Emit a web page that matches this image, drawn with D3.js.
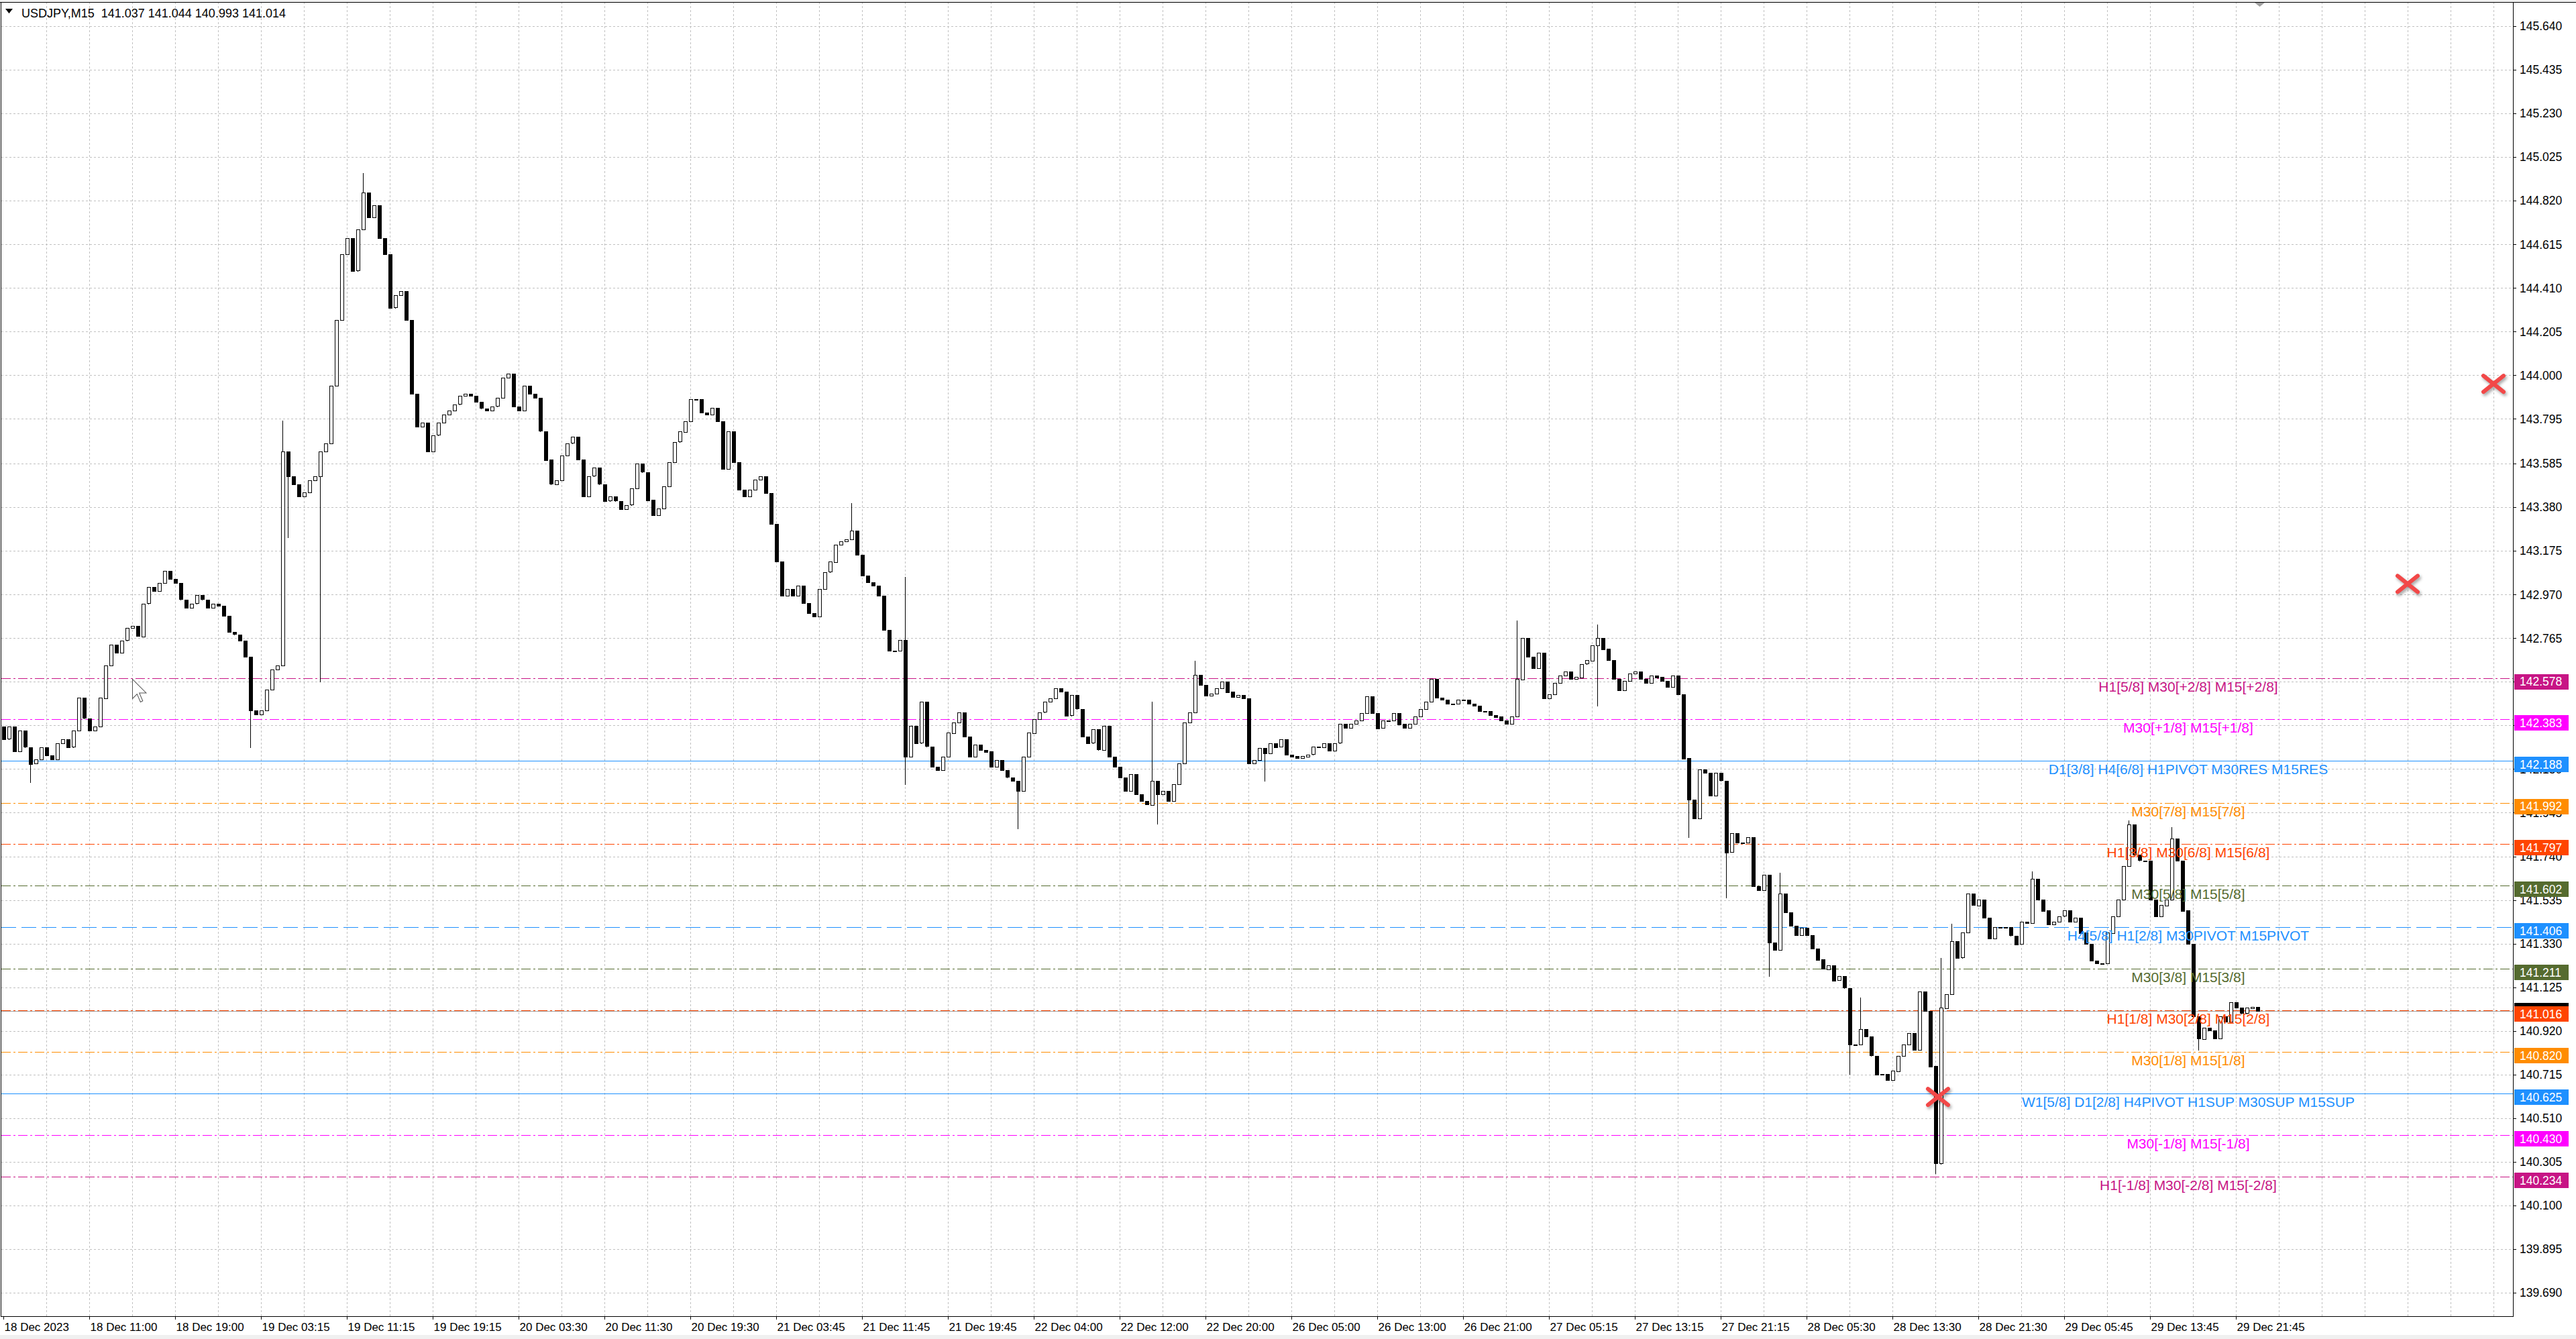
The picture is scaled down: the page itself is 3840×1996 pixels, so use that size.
<!DOCTYPE html>
<html>
<head>
<meta charset="utf-8">
<script src="https://cdnjs.cloudflare.com/ajax/libs/d3/7.8.5/d3.min.js"></script>
<style>
  html, body { margin: 0; padding: 0; background: #f0f0f0; overflow: hidden; }
  svg { display: block; }
</style>
</head>
<body>
<div id="chart"></div>
<script>
// USDJPY M15 with Murrey math levels, drawn with D3

var symbolTitle = "USDJPY,M15";
var lastOHLC = ["141.037", "141.044", "140.993", "141.014"];
var bidPrice = 141.014;

// closes read every 2nd M15 bar (bar index = i * 2)
var firstOpen = 142.350;
var closes = [
  142.291, 142.349, 142.233, 142.330, 142.253, 142.175, 142.195, 142.253, 142.214, 142.195,
  142.272, 142.291, 142.253, 142.330, 142.484, 142.388, 142.330, 142.349, 142.484, 142.638,
  142.735, 142.696, 142.754, 142.812, 142.822, 142.774, 142.928, 143.005, 142.986, 143.024,
  143.082, 143.044, 143.024, 142.947, 142.909, 142.928, 142.967, 142.947, 142.909, 142.928,
  142.918, 142.870, 142.793, 142.783, 142.754, 142.677, 142.426, 142.407, 142.426, 142.523,
  142.619, 142.638, 143.642, 143.526, 143.488, 143.430, 143.449, 143.507, 143.526, 143.642,
  143.681, 143.951, 144.259, 144.568, 144.645, 144.491, 144.684, 144.858, 144.742, 144.800,
  144.645, 144.568, 144.317, 144.375, 144.395, 144.259, 143.912, 143.758, 143.777, 143.642,
  143.719, 143.777, 143.816, 143.835, 143.864, 143.902, 143.912, 143.902, 143.874, 143.845,
  143.835, 143.854, 143.893, 143.989, 144.009, 143.854, 143.835, 143.951, 143.912, 143.893,
  143.738, 143.603, 143.488, 143.507, 143.623, 143.681, 143.710, 143.603, 143.430, 143.526,
  143.565, 143.488, 143.410, 143.430, 143.410, 143.372, 143.391, 143.468, 143.584, 143.545,
  143.414, 143.341, 143.374, 143.478, 143.591, 143.687, 143.735, 143.784, 143.888, 143.888,
  143.824, 143.816, 143.848, 143.784, 143.559, 143.735, 143.591, 143.462, 143.430, 143.462,
  143.510, 143.526, 143.446, 143.301, 143.124, 142.964, 142.996, 142.964, 143.012, 142.931,
  142.883, 142.867, 142.996, 143.076, 143.124, 143.205, 143.221, 143.229, 143.269, 143.157,
  143.060, 143.028, 143.012, 142.964, 142.803, 142.706, 142.706, 142.755, 142.208, 142.353,
  142.272, 142.465, 142.256, 142.160, 142.144, 142.208, 142.320, 142.369, 142.417, 142.304,
  142.208, 142.264, 142.240, 142.232, 142.160, 142.192, 142.144, 142.111, 142.095, 142.047,
  142.208, 142.320, 142.385, 142.417, 142.465, 142.481, 142.529, 142.513, 142.401, 142.497,
  142.433, 142.304, 142.272, 142.336, 142.240, 142.353, 142.208, 142.160, 142.111, 142.047,
  142.127, 142.031, 141.999, 141.983, 142.095, 142.031, 142.047, 141.999, 142.079, 142.176,
  142.369, 142.417, 142.594, 142.546, 142.497, 142.505, 142.529, 142.562, 142.513, 142.489,
  142.497, 142.481, 142.176, 142.192, 142.248, 142.224, 142.272,
  142.254, 142.290, 142.219, 142.210, 142.201, 142.210, 142.219, 142.254, 142.254, 142.272,
  142.237, 142.272, 142.361, 142.343, 142.361, 142.378, 142.414, 142.493, 142.414, 142.343,
  142.378, 142.378, 142.414, 142.361, 142.343, 142.361, 142.396, 142.431, 142.467, 142.573,
  142.484, 142.476, 142.458, 142.458, 142.476, 142.476, 142.458, 142.449, 142.423, 142.423,
  142.405, 142.396, 142.378, 142.361, 142.396, 142.573, 142.767, 142.679, 142.626, 142.697,
  142.484, 142.502, 142.555, 142.590, 142.608, 142.573, 142.582, 142.644, 142.661, 142.732,
  142.767, 142.714, 142.661, 142.573, 142.520, 142.564, 142.599, 142.608, 142.573, 142.555,
  142.590, 142.582, 142.564, 142.537, 142.590, 142.502, 142.201, 142.007, 141.918, 142.148,
  142.131, 142.025, 142.131, 142.095, 141.759, 141.848, 141.804, 141.804, 141.830, 141.600,
  141.582, 141.653, 141.335, 141.299, 141.565, 141.476, 141.414, 141.370, 141.405, 141.370,
  141.308, 141.255, 141.211, 141.229, 141.158, 141.176, 141.122, 140.857, 140.857, 140.928,
  140.893, 140.804, 140.716, 140.716, 140.689, 140.733, 140.804, 140.857,
  140.910, 140.832, 141.106, 141.015, 140.754, 140.296, 141.028, 141.093, 141.341, 141.263,
  141.381, 141.564, 141.511, 141.538, 141.453, 141.355, 141.407, 141.407, 141.407, 141.368,
  141.328, 141.433, 141.427, 141.636, 141.538, 141.485, 141.420, 141.433, 141.459, 141.485,
  141.433, 141.453, 141.381, 141.328, 141.250, 141.237, 141.237, 141.381, 141.459, 141.538,
  141.694, 141.890, 141.747, 141.721, 141.721, 141.538, 141.459, 141.511, 141.538, 141.825,
  141.721, 141.485, 141.328, 140.989, 140.884, 140.936, 140.923, 140.884, 140.989, 140.963,
  141.054, 141.028, 141.002, 141.028, 141.034, 141.014
];

// long wicks that stick out of the bodies
var highIdx = [52, 67, 158, 168, 214, 222, 282, 297, 331, 346, 361, 363, 378, 396, 404];
var highVal = [143.787, 144.950, 143.398, 143.052, 142.468, 142.658, 142.847, 142.829, 141.662, 141.078, 141.263, 141.422, 141.668, 141.910, 141.877];
var lowIdx = [5, 46, 53, 59, 168, 189, 215, 235, 297, 314, 321, 329, 344, 360, 409];
var lowVal = [142.088, 142.252, 143.237, 142.561, 142.079, 141.870, 141.894, 142.095, 142.449, 141.830, 141.547, 141.176, 140.716, 140.250, 140.832];

// Murrey math levels
var levelPrices = [142.578, 142.383, 142.188, 141.992, 141.797, 141.602, 141.406, 141.211, 141.016, 140.820, 140.625, 140.430, 140.234];
var levelEighths = [10, 9, 8, 7, 6, 5, 4, 3, 2, 1, 0, -1, -2];
var levelNames = [
  "H1[5/8] M30[+2/8] M15[+2/8]",
  "M30[+1/8] M15[+1/8]",
  "D1[3/8] H4[6/8] H1PIVOT M30RES M15RES",
  "M30[7/8] M15[7/8]",
  "H1[3/8] M30[6/8] M15[6/8]",
  "M30[5/8] M15[5/8]",
  "H4[5/8] H1[2/8] M30PIVOT M15PIVOT",
  "M30[3/8] M15[3/8]",
  "H1[1/8] M30[2/8] M15[2/8]",
  "M30[1/8] M15[1/8]",
  "W1[5/8] D1[2/8] H4PIVOT H1SUP M30SUP M15SUP",
  "M30[-1/8] M15[-1/8]",
  "H1[-1/8] M30[-2/8] M15[-2/8]"
];

var priceTicks = ["145.640", "145.435", "145.230", "145.025", "144.820", "144.615", "144.410", "144.205",
  "144.000", "143.795", "143.585", "143.380", "143.175", "142.970", "142.765", "142.560", "142.355",
  "142.150", "141.945", "141.740", "141.535", "141.330", "141.125", "140.920", "140.715", "140.510",
  "140.305", "140.100", "139.895", "139.690"];

var timeLabels = ["18 Dec 2023", "18 Dec 11:00", "18 Dec 19:00", "19 Dec 03:15", "19 Dec 11:15", "19 Dec 19:15",
  "20 Dec 03:30", "20 Dec 11:30", "20 Dec 19:30", "21 Dec 03:45", "21 Dec 11:45", "21 Dec 19:45",
  "22 Dec 04:00", "22 Dec 12:00", "22 Dec 20:00", "26 Dec 05:00", "26 Dec 13:00", "26 Dec 21:00",
  "27 Dec 05:15", "27 Dec 13:15", "27 Dec 21:15", "28 Dec 05:30", "28 Dec 13:30", "28 Dec 21:30",
  "29 Dec 05:45", "29 Dec 13:45", "29 Dec 21:45"];

// red target crosses (bar index, price)
var markBars = [721, 896, 928];
var markPrices = [140.61, 143.02, 143.96];

var svgWidth = 3840;
var svgHeight = 1996;
var plot = { left: 2, top: 3, right: 3746, bottom: 1962 };
var uiFont = "'Liberation Sans', Arial, sans-serif";

var svg = d3.select("#chart")
  .append("svg")
  .attr("width", svgWidth)
  .attr("height", svgHeight);

var xScale = d3.scaleLinear().domain([0, 840]).range([5, 3365]);
var yScale = d3.scaleLinear().domain([139.690, 145.640]).range([1927, 39]);

function py(p) { return Math.round(yScale(p)) + 0.5; }
function px(b) { return Math.round(xScale(b)) + 0.5; }

function levelStyle(e) {
  var dd = "14,4,3,4";
  if (e === 8 || e === 0) return { color: "#1e90ff", dash: null };
  if (e === 4) return { color: "#1e90ff", dash: "22,8" };
  if (e === 10 || e === -2) return { color: "#c71585", dash: dd };
  if (e === 9 || e === -1) return { color: "#ff00ff", dash: dd };
  if (e === 7 || e === 1) return { color: "#ff8c00", dash: dd };
  if (e === 6 || e === 2) return { color: "#ff4500", dash: dd };
  return { color: "#556b2f", dash: dd };
}

var defs = svg.append("defs");
var shadow = defs.append("filter").attr("id", "shadow").attr("x", "-50%").attr("y", "-50%").attr("width", "200%").attr("height", "200%");
shadow.append("feGaussianBlur").attr("stdDeviation", 2);

// window background
svg.append("rect").attr("x", 0).attr("y", 3).attr("width", svgWidth).attr("height", 1987).attr("fill", "#ffffff");

var chartGroup = svg.append("g").attr("shape-rendering", "crispEdges");

// grid
chartGroup.append("g")
  .selectAll("line")
  .data(priceTicks)
  .enter()
  .append("line")
  .attr("x1", plot.left).attr("x2", plot.right)
  .attr("y1", function(d) { return py(+d); })
  .attr("y2", function(d) { return py(+d); })
  .attr("stroke", "#c0c0c0")
  .attr("stroke-dasharray", "3,3");

var gridBars = d3.range(16, 940, 16).filter(function(b) { return xScale(b) < plot.right - 4; });
chartGroup.append("g")
  .selectAll("line")
  .data(gridBars)
  .enter()
  .append("line")
  .attr("x1", px).attr("x2", px)
  .attr("y1", plot.top).attr("y2", plot.bottom)
  .attr("stroke", "#c0c0c0")
  .attr("stroke-dasharray", "3,3");

// bid line
chartGroup.append("line")
  .attr("x1", plot.left).attr("x2", plot.right)
  .attr("y1", py(bidPrice)).attr("y2", py(bidPrice))
  .attr("stroke", "#a0a0a0");

// level lines
chartGroup.append("g")
  .selectAll("line")
  .data(levelPrices)
  .enter()
  .append("line")
  .attr("x1", plot.left).attr("x2", plot.right)
  .attr("y1", function(d) { return py(d); })
  .attr("y2", function(d) { return py(d); })
  .attr("stroke", function(d, i) { return levelStyle(levelEighths[i]).color; })
  .attr("stroke-dasharray", function(d, i) { return levelStyle(levelEighths[i]).dash; });

// candles
var candles = closes.map(function(c, i) {
  var o = i === 0 ? firstOpen : closes[i - 1];
  var h = Math.max(o, c);
  var l = Math.min(o, c);
  var hi = highIdx.indexOf(i);
  var lo = lowIdx.indexOf(i);
  if (hi >= 0) h = Math.max(h, highVal[hi]);
  if (lo >= 0) l = Math.min(l, lowVal[lo]);
  return { bar: i * 2, o: o, c: c, h: h, l: l };
});

var candleGroup = chartGroup.append("g");
candleGroup.selectAll("line")
  .data(candles)
  .enter()
  .append("line")
  .attr("x1", function(d) { return px(d.bar); })
  .attr("x2", function(d) { return px(d.bar); })
  .attr("y1", function(d) { return Math.round(yScale(d.h)); })
  .attr("y2", function(d) { return Math.round(yScale(d.l)) + 1; })
  .attr("stroke", "#000");

candleGroup.selectAll("rect")
  .data(candles)
  .enter()
  .append("rect")
  .attr("x", function(d) { return Math.round(xScale(d.bar)) - 2 + 0.5; })
  .attr("width", 5)
  .attr("y", function(d) { return Math.round(yScale(Math.max(d.o, d.c))) + 0.5; })
  .attr("height", function(d) { return Math.max(1, Math.round(Math.abs(yScale(d.o) - yScale(d.c)))); })
  .attr("fill", function(d) { return d.c >= d.o ? "#ffffff" : "#000000"; })
  .attr("stroke", "#000");

// level captions
svg.append("g")
  .selectAll("text")
  .data(levelNames)
  .enter()
  .append("text")
  .attr("x", 3262)
  .attr("y", function(d, i) { return yScale(levelPrices[i]) + 20; })
  .attr("text-anchor", "middle")
  .attr("font-family", uiFont)
  .attr("font-size", "21px")
  .attr("fill", function(d, i) { return levelStyle(levelEighths[i]).color; })
  .text(function(d) { return d; });

// red crosses
var marks = svg.append("g")
  .selectAll("g")
  .data(markBars)
  .enter()
  .append("g")
  .attr("transform", function(d, i) { return "translate(" + xScale(d) + "," + yScale(markPrices[i]) + ")"; });

marks.append("path")
  .attr("d", "M-15,-12L15,12M-15,12L15,-12")
  .attr("transform", "translate(2,3)")
  .attr("stroke", "#000").attr("stroke-opacity", 0.35)
  .attr("stroke-width", 6).attr("stroke-linecap", "round")
  .attr("filter", "url(#shadow)");
marks.append("path")
  .attr("d", "M-15,-12L15,12M-15,12L15,-12")
  .attr("stroke", "#f24848")
  .attr("stroke-width", 6).attr("stroke-linecap", "round");

// mouse cursor left on the chart
svg.append("path")
  .attr("d", "M0,0L0,17L4,13L7,20L9,19L6,12L12,12Z")
  .attr("transform", "translate(197.5,1012.5) scale(1.7)")
  .attr("fill", "#ffffff")
  .attr("stroke", "#555")
  .attr("stroke-width", 0.6);

// frame
var frame = svg.append("g").attr("shape-rendering", "crispEdges");
frame.append("line").attr("x1", 0).attr("x2", svgWidth).attr("y1", 3.5).attr("y2", 3.5).attr("stroke", "#000");
frame.append("line").attr("x1", 1.5).attr("x2", 1.5).attr("y1", 3).attr("y2", plot.bottom).attr("stroke", "#000");
frame.append("line").attr("x1", plot.right + 0.5).attr("x2", plot.right + 0.5).attr("y1", 3).attr("y2", plot.bottom + 1).attr("stroke", "#000");
frame.append("line").attr("x1", 1).attr("x2", plot.right + 1).attr("y1", plot.bottom + 0.5).attr("y2", plot.bottom + 0.5).attr("stroke", "#000");

// chart shift marker
svg.append("path").attr("d", "M3361,4L3376,4L3368.5,10Z").attr("fill", "#a0a0a0");

// price axis
var priceAxis = svg.append("g");
priceAxis.selectAll("line")
  .data(priceTicks)
  .enter()
  .append("line")
  .attr("shape-rendering", "crispEdges")
  .attr("x1", plot.right).attr("x2", plot.right + 5)
  .attr("y1", function(d) { return py(+d); })
  .attr("y2", function(d) { return py(+d); })
  .attr("stroke", "#000");

priceAxis.selectAll("text")
  .data(priceTicks)
  .enter()
  .append("text")
  .attr("x", 3756)
  .attr("y", function(d) { return yScale(+d); })
  .attr("dy", "0.36em")
  .attr("font-family", uiFont)
  .attr("font-size", "17.5px")
  .attr("fill", "#000")
  .text(function(d) { return d; });

// bid tag sits behind the level tags
priceAxis.append("rect")
  .attr("x", 3748).attr("width", 81)
  .attr("y", Math.round(yScale(bidPrice)) - 12).attr("height", 23)
  .attr("fill", "#000");

var tags = priceAxis.append("g")
  .selectAll("g")
  .data(levelPrices)
  .enter()
  .append("g");

tags.append("rect")
  .attr("x", 3748).attr("width", 81)
  .attr("y", function(d) { return Math.round(yScale(d)) - 6; })
  .attr("height", 23)
  .attr("fill", function(d, i) { return levelStyle(levelEighths[i]).color; });

tags.append("text")
  .attr("x", 3756)
  .attr("y", function(d) { return yScale(d) + 5.5; })
  .attr("dy", "0.36em")
  .attr("font-family", uiFont)
  .attr("font-size", "17.5px")
  .attr("fill", "#ffffff")
  .text(function(d) { return d.toFixed(3); });

// time axis
var timeAxis = svg.append("g");
timeAxis.selectAll("line")
  .data(timeLabels)
  .enter()
  .append("line")
  .attr("shape-rendering", "crispEdges")
  .attr("x1", function(d, i) { return px(i * 32); })
  .attr("x2", function(d, i) { return px(i * 32); })
  .attr("y1", plot.bottom).attr("y2", plot.bottom + 5)
  .attr("stroke", "#000");

timeAxis.selectAll("text")
  .data(timeLabels)
  .enter()
  .append("text")
  .attr("x", function(d, i) { return xScale(i * 32) + 1.5; })
  .attr("y", 1984)
  .attr("font-family", uiFont)
  .attr("font-size", "17px")
  .attr("fill", "#000")
  .text(function(d) { return d; });

// header
svg.append("path").attr("d", "M8,13L19,13L13.5,20Z").attr("fill", "#000");
svg.append("text")
  .attr("x", 32)
  .attr("y", 26)
  .attr("font-family", uiFont)
  .attr("font-size", "18px")
  .attr("fill", "#000")
  .attr("xml:space", "preserve")
  .style("white-space", "pre")
  .text(symbolTitle + "  " + lastOHLC.join(" "));
</script>
</body>
</html>
